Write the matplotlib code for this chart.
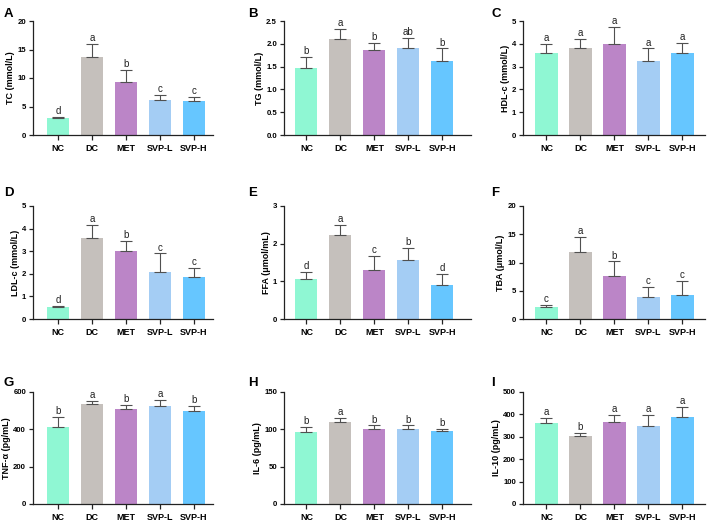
import matplotlib
matplotlib.use('Agg')
import matplotlib.pyplot as plt

plt.rcParams['font.family'] = ['Liberation Sans', 'DejaVu Sans']

groups = ['NC', 'DC', 'MET', 'SVP-L', 'SVP-H']
colors = ['#8ff7d3', '#c5c0bc', '#bb85c7', '#a4cdf4', '#66c6ff']

# means, upper error bar ends, significance letters
tc_mean = [2.9, 13.7, 9.35, 6.1, 6.0]
tc_top = [3.2, 16.0, 11.4, 7.0, 6.7]
tc_sig = ['d', 'a', 'b', 'c', 'c']

tg_mean = [1.46, 2.11, 1.87, 1.90, 1.63]
tg_top = [1.71, 2.33, 2.02, 2.13, 1.90]
tg_sig = ['b', 'a', 'b', 'ab', 'b']

hdl_mean = [3.58, 3.83, 3.99, 3.26, 3.61]
hdl_top = [3.98, 4.20, 4.75, 3.80, 4.05]
hdl_sig = ['a', 'a', 'a', 'a', 'a']

ldl_mean = [0.51, 3.60, 2.99, 2.09, 1.84]
ldl_top = [0.59, 4.16, 3.44, 2.90, 2.25]
ldl_sig = ['d', 'a', 'b', 'c', 'c']

ffa_mean = [1.07, 2.24, 1.30, 1.57, 0.91]
ffa_top = [1.24, 2.49, 1.67, 1.89, 1.19]
ffa_sig = ['d', 'a', 'c', 'b', 'd']

tba_mean = [2.05, 11.8, 7.66, 3.98, 4.33]
tba_top = [2.46, 14.5, 10.2, 5.73, 6.67]
tba_sig = ['c', 'a', 'b', 'c', 'c']

tnf_mean = [410, 534, 508, 524, 497]
tnf_top = [467, 552, 529, 556, 525]
tnf_sig = ['b', 'a', 'b', 'a', 'b']

il6_mean = [96.8, 110, 99.9, 99.9, 97.2]
il6_top = [103.4, 115.8, 105.2, 105.2, 100.8]
il6_sig = ['b', 'a', 'b', 'b', 'b']

il10_mean = [360, 303, 365, 350, 388]
il10_top = [384, 318, 397, 397, 435]
il10_sig = ['a', 'b', 'a', 'a', 'a']

panels = [
    ('A', 'TC (mmol/L)', tc_mean, tc_top, tc_sig, 20, 5),
    ('B', 'TG (mmol/L)', tg_mean, tg_top, tg_sig, 2.5, 0.5),
    ('C', 'HDL-c (mmol/L)', hdl_mean, hdl_top, hdl_sig, 5, 1),
    ('D', 'LDL-c (mmol/L)', ldl_mean, ldl_top, ldl_sig, 5, 1),
    ('E', 'FFA (μmol/mL)', ffa_mean, ffa_top, ffa_sig, 3, 1),
    ('F', 'TBA (μmol/L)', tba_mean, tba_top, tba_sig, 20, 5),
    ('G', 'TNF-α (pg/mL)', tnf_mean, tnf_top, tnf_sig, 600, 200),
    ('H', 'IL-6 (pg/mL)', il6_mean, il6_top, il6_sig, 150, 50),
    ('I', 'IL-10 (pg/mL)', il10_mean, il10_top, il10_sig, 500, 100),
]

W, H = 708, 521
fig = plt.figure(figsize=(W / 100, H / 100), dpi=100)

# axes boxes in pixels: (left, right) per column, (top, bottom) per row
cols = [(33, 213, -0.73), (284, 471, -0.66), (523, 705, -0.69)]
rows = [(21, 135), (206, 319), (392, 504)]
letter_x = [4, 248, 491]
letter_y = [14, 193, 383]

x = list(range(len(groups)))
for i, (tag, ylabel, mean, top, sig, ymax, step) in enumerate(panels):
    r, c = divmod(i, 3)
    left, right, x0 = cols[c]
    ytop, ybot = rows[r]
    ax = fig.add_axes([left / W, 1 - ybot / H, (right - left) / W, (ybot - ytop) / H])
    ax.bar(x, mean, width=0.65, color=colors, zorder=2)
    err = [t - m for t, m in zip(top, mean)]
    ax.errorbar(x, mean, yerr=[[0] * 5, err], fmt='none', ecolor='#505050',
                elinewidth=0.8, capsize=4.3, capthick=0.8, zorder=3)
    for xi, t, s in zip(x, top, sig):
        ax.annotate(s, (xi, t), xytext=(0, 0.6), textcoords='offset points',
                    ha='center', va='bottom', fontsize=7, color='#222222')
    ax.set_ylim(0, ymax)
    ax.set_xlim(x0, x0 + (right - left) / 34.0)
    ticks = [k * step for k in range(int(round(ymax / step)) + 1)]
    ax.set_yticks(ticks)
    ax.set_yticklabels([('%g' % t) if step >= 1 else '%.1f' % t for t in ticks],
                       fontsize=5.6, fontweight='bold')
    ax.set_xticks(x)
    ax.set_xticklabels(groups, fontsize=6.5, fontweight='bold')
    ax.set_ylabel(ylabel, fontsize=6.5, fontweight='bold', labelpad=1.5)
    for sp in ['top', 'right']:
        ax.spines[sp].set_visible(False)
    for sp in ['left', 'bottom']:
        ax.spines[sp].set_linewidth(0.9)
        ax.spines[sp].set_color('#222222')
    ax.tick_params(axis='both', length=3, width=0.9, color='#222222', pad=2)
    ax.tick_params(axis='x', length=3.5, pad=3)
    fig.text(letter_x[c] / W, 1 - letter_y[r] / H, tag, fontsize=9.5,
             fontweight='bold', va='center', ha='left')

fig.savefig('out.png', dpi=100)
